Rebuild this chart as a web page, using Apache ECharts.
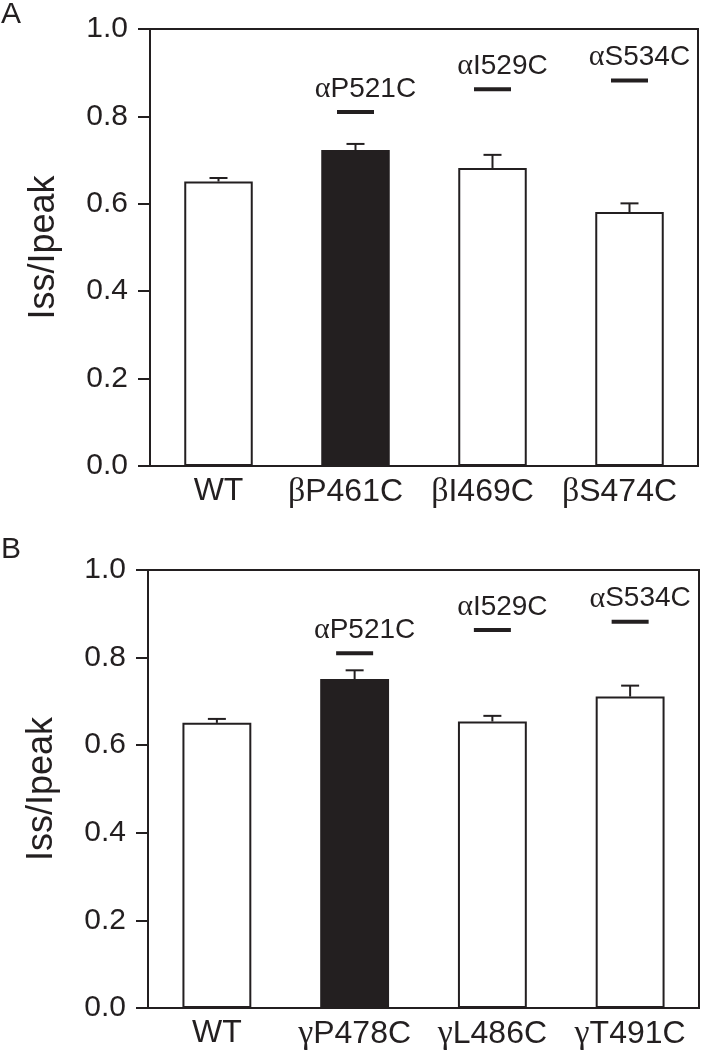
<!DOCTYPE html>
<html>
<head>
<meta charset="utf-8">
<script src="https://cdn.jsdelivr.net/npm/echarts@6/dist/echarts.min.js"></script>
<style>
  html, body { margin: 0; padding: 0; background: #fff; }
  #chart { width: 701px; height: 1055px; }
</style>
</head>
<body>
<div id="chart"></div>
<script>
// panel A
const categoriesA = ["WT", "βP461C", "βI469C", "βS474C"];
const meansA = [0.651, 0.723, 0.682, 0.581];
const semA = [0.008, 0.014, 0.030, 0.020];
// panel B
const categoriesB = ["WT", "γP478C", "γL486C", "γT491C"];
const meansB = [0.651, 0.751, 0.654, 0.711];
const semB = [0.009, 0.020, 0.013, 0.025];
// alpha partner marks above bars 1..3
const pairIndex = [1, 2, 3];
const pairLabels = ["αP521C", "αI529C", "αS534C"];
const pairLevelsA = [0.81, 0.862, 0.882];
const pairLevelsB = [0.81, 0.863, 0.882];
const filledIndex = 1;

const ink = "#231f20";
const sans = "'Liberation Sans', Arial, sans-serif";
const serif = "'Liberation Serif', 'DejaVu Serif', serif";

let chart = echarts.init(document.getElementById("chart"));

function greek(s, tag) {
  if (/^[αβγ]/.test(s)) return "{g|" + s[0] + "}{" + (tag || "t") + "|" + s.slice(1) + "}";
  return "{t|" + s + "}";
}

function richFor(size, shift) {
  return {
    g: { fontFamily: serif, fontSize: size + 2, color: ink },
    t: { fontFamily: sans, fontSize: size, color: ink },
    s: { fontFamily: sans, fontSize: size, color: ink, padding: [0, shift || 0, 0, 0] }
  };
}

function barData(means) {
  return means.map(function(v, i) {
    return {
      value: v,
      itemStyle: { color: i === filledIndex ? ink : "#fff", borderColor: ink, borderWidth: 2 }
    };
  });
}

function errData(means, sem) {
  return means.map(function(v, i) { return [i, v, v + sem[i]]; });
}

function pairData(levels) {
  return pairIndex.map(function(ci, k) { return { value: [ci, levels[k]], name: pairLabels[k] }; });
}

function renderErr(params, api) {
  let base = api.coord([api.value(0), api.value(1)]);
  let top = api.coord([api.value(0), api.value(2)]);
  let st = { stroke: ink, lineWidth: 2 };
  return {
    type: "group",
    children: [
      { type: "line", shape: { x1: base[0], y1: base[1], x2: top[0], y2: top[1] }, style: st },
      { type: "line", shape: { x1: top[0] - 9, y1: top[1], x2: top[0] + 9, y2: top[1] }, style: st }
    ]
  };
}

function xAx(idx, cats, shift) {
  return {
    type: "category",
    gridIndex: idx,
    data: cats,
    axisLine: { lineStyle: { color: ink, width: 2 } },
    axisTick: { show: false },
    axisLabel: {
      margin: 9,
      formatter: function(v) { return greek(v, "s"); },
      rich: richFor(32, shift)
    }
  };
}

function yAx(idx) {
  return {
    type: "value",
    gridIndex: idx,
    min: 0,
    max: 1,
    interval: 0.2,
    name: "Iss/Ipeak",
    nameLocation: "middle",
    nameGap: 88,
    nameTextStyle: { fontFamily: sans, fontSize: 36, color: ink },
    axisLine: { show: true, lineStyle: { color: ink, width: 2 } },
    axisTick: { show: true, length: 12, lineStyle: { color: ink, width: 2 } },
    splitLine: { show: false },
    axisLabel: {
      margin: 22,
      fontFamily: sans,
      fontSize: 30,
      color: ink,
      formatter: function(v) { return v.toFixed(1); }
    }
  };
}

function panelSeries(idx, means, sem, levels) {
  return [
    {
      type: "bar",
      xAxisIndex: idx,
      yAxisIndex: idx,
      barWidth: "50%",
      data: barData(means),
      z: 2
    },
    {
      type: "custom",
      xAxisIndex: idx,
      yAxisIndex: idx,
      renderItem: renderErr,
      encode: { x: 0, y: [1, 2] },
      data: errData(means, sem),
      z: 3
    },
    {
      type: "scatter",
      xAxisIndex: idx,
      yAxisIndex: idx,
      symbol: "rect",
      symbolSize: [37, 4],
      itemStyle: { color: ink, opacity: 1 },
      label: {
        show: true,
        position: "top",
        distance: 6,
        offset: [10, 0],
        color: ink,
        opacity: 1,
        formatter: function(p) { return greek(p.name); },
        rich: richFor(28)
      },
      emphasis: { disabled: true },
      data: pairData(levels),
      z: 4
    }
  ];
}

function panelLetter(txt, y) {
  return {
    type: "text",
    left: 1,
    top: y,
    style: { text: txt, fill: ink, font: "30px 'Liberation Sans', Arial, sans-serif" }
  };
}

option = {
  animation: false,
  backgroundColor: "#fff",
  graphic: [panelLetter("A", 0), panelLetter("B", 535)],
  grid: [
    { left: 150, right: 3, top: 29, height: 437, show: true, borderColor: ink, borderWidth: 2, backgroundColor: "transparent" },
    { left: 148, right: 2, top: 570, height: 438, show: true, borderColor: ink, borderWidth: 2, backgroundColor: "transparent" }
  ],
  xAxis: [xAx(0, categoriesA, 20), xAx(1, categoriesB, 0)],
  yAxis: [yAx(0), yAx(1)],
  series: panelSeries(0, meansA, semA, pairLevelsA).concat(panelSeries(1, meansB, semB, pairLevelsB))
};

chart.setOption(option);
</script>
</body>
</html>
